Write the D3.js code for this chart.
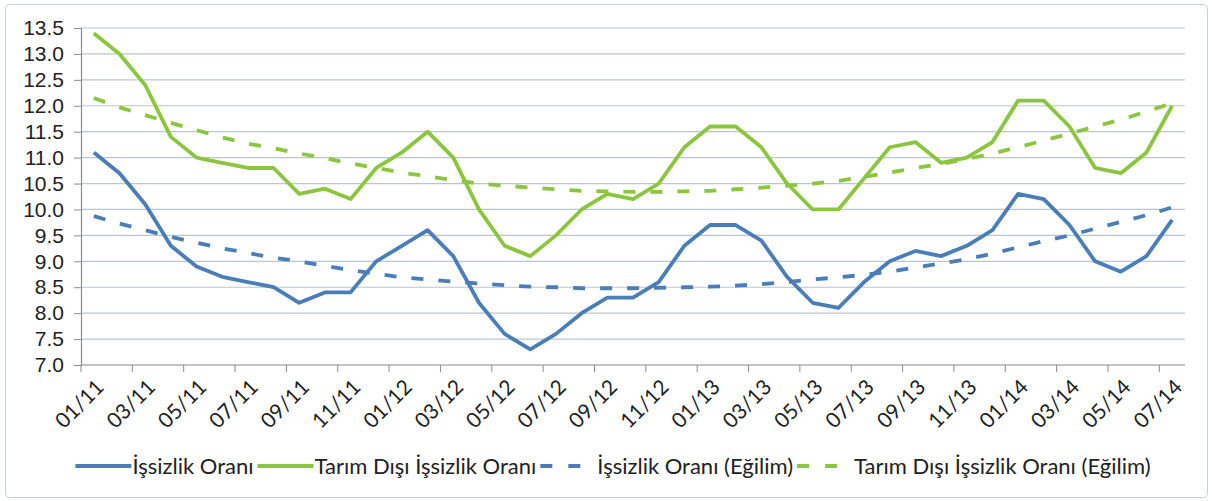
<!DOCTYPE html>
<html>
<head>
<meta charset="utf-8">
<script src="https://cdn.jsdelivr.net/npm/d3@7"></script>
<style>
  body { margin: 0; background: #fff; }
  svg { display: block; font-family: Lato, "Open Sans", sans-serif; }
</style>
</head>
<body>
<div id="chart"></div>
<script>
// Chart size
var svgWidth = 1212;
var svgHeight = 501;

var margin = { top: 28, right: 27, bottom: 136, left: 81 };
var chartWidth = svgWidth - margin.left - margin.right;
var chartHeight = svgHeight - margin.top - margin.bottom;

// Months (01/11 .. 07/14)
var months = ["01/11","02/11","03/11","04/11","05/11","06/11","07/11","08/11","09/11","10/11","11/11","12/11",
              "01/12","02/12","03/12","04/12","05/12","06/12","07/12","08/12","09/12","10/12","11/12","12/12",
              "01/13","02/13","03/13","04/13","05/13","06/13","07/13","08/13","09/13","10/13","11/13","12/13",
              "01/14","02/14","03/14","04/14","05/14","06/14","07/14"];

// İşsizlik Oranı
var issizlik = [11.1,10.7,10.1,9.3,8.9,8.7,8.6,8.5,8.2,8.4,8.4,9.0,
                9.3,9.6,9.1,8.2,7.6,7.3,7.6,8.0,8.3,8.3,8.6,9.3,
                9.7,9.7,9.4,8.7,8.2,8.1,8.6,9.0,9.2,9.1,9.3,9.6,
                10.3,10.2,9.7,9.0,8.8,9.1,9.8];

// Tarım Dışı İşsizlik Oranı
var tarimDisi = [13.4,13.0,12.4,11.4,11.0,10.9,10.8,10.8,10.3,10.4,10.2,10.8,
                 11.1,11.5,11.0,10.0,9.3,9.1,9.5,10.0,10.3,10.2,10.5,11.2,
                 11.6,11.6,11.2,10.5,10.0,10.0,10.6,11.2,11.3,10.9,11.0,11.3,
                 12.1,12.1,11.6,10.8,10.7,11.1,12.0];

// Eğilim (trend) values
var issizlikEgilim = [9.87,9.73,9.60,9.47,9.36,9.25,9.16,9.07,9.00,8.91,8.83,8.76,
                      8.69,8.65,8.61,8.57,8.54,8.51,8.50,8.48,8.48,8.48,8.49,8.50,
                      8.51,8.53,8.56,8.60,8.65,8.69,8.74,8.80,8.88,8.96,9.04,9.15,
                      9.27,9.39,9.50,9.63,9.76,9.89,10.04];

var tarimDisiEgilim = [12.15,11.97,11.82,11.67,11.53,11.39,11.27,11.18,11.08,10.99,10.89,10.80,
                       10.71,10.64,10.57,10.50,10.46,10.42,10.39,10.36,10.35,10.34,10.34,10.35,
                       10.36,10.39,10.42,10.46,10.50,10.55,10.63,10.71,10.80,10.88,10.97,11.08,
                       11.20,11.33,11.46,11.60,11.73,11.89,12.05];

var yTicks = [7.0,7.5,8.0,8.5,9.0,9.5,10.0,10.5,11.0,11.5,12.0,12.5,13.0,13.5];

var seriesNames = ["İşsizlik Oranı", "Tarım Dışı İşsizlik Oranı",
                   "İşsizlik Oranı (Eğilim)", "Tarım Dışı İşsizlik Oranı (Eğilim)"];

var blue = "#4a7ebb";
var green = "#8cc63f";

var svg = d3.select("#chart")
  .append("svg")
  .attr("width", svgWidth)
  .attr("height", svgHeight);

// chart frame
svg.append("rect")
  .attr("x", 5.5).attr("y", 4.5)
  .attr("width", 1202).attr("height", 493)
  .attr("rx", 4)
  .attr("fill", "#fff")
  .attr("stroke", "#c4d2e0");

var chartGroup = svg.append("g")
  .attr("transform", `translate(${margin.left}, ${margin.top})`);

// band scale for categories, lines sit at the band centres
var xBand = d3.scaleBand()
  .domain(months)
  .range([0, chartWidth])
  .padding(0);

var xPos = d => xBand(d) + xBand.bandwidth() / 2;

var yLinearScale = d3.scaleLinear()
  .domain([7, 13.5])
  .range([chartHeight, 0]);

// gridlines
chartGroup.append("g")
  .selectAll("line")
  .data(yTicks.slice(1))
  .enter()
  .append("line")
  .attr("x1", 0)
  .attr("x2", chartWidth)
  .attr("y1", d => yLinearScale(d))
  .attr("y2", d => yLinearScale(d))
  .attr("stroke", "#bcc6d2")
  .attr("stroke-width", 1.2);

// left axis
var leftAxis = chartGroup.append("g")
  .call(d3.axisLeft(yLinearScale)
    .tickValues(yTicks)
    .tickFormat(d3.format(".1f"))
    .tickSize(7)
    .tickPadding(10));

leftAxis.select(".domain").attr("stroke", "#8c8c8c").attr("stroke-width", 1.2);
leftAxis.selectAll(".tick line").attr("stroke", "#8c8c8c");
leftAxis.selectAll("text")
  .attr("font-size", "21px")
  .attr("fill", "#222");

// bottom axis: ticks every 2 categories at the category boundaries
var tickIdx = d3.range(0, months.length, 2);
var bottomAxis = chartGroup.append("g")
  .attr("transform", `translate(0, ${chartHeight})`);

bottomAxis.append("line")
  .attr("x1", 0).attr("x2", chartWidth)
  .attr("stroke", "#8c8c8c").attr("stroke-width", 1.2);

bottomAxis.selectAll(".tk")
  .data(tickIdx)
  .enter()
  .append("line")
  .attr("class", "tk")
  .attr("x1", i => xBand(months[i]))
  .attr("x2", i => xBand(months[i]))
  .attr("y1", 0).attr("y2", 7)
  .attr("stroke", "#8c8c8c");

bottomAxis.selectAll(".lbl")
  .data(tickIdx)
  .enter()
  .append("text")
  .attr("class", "lbl")
  .attr("transform", i => `translate(${xPos(months[i]) + 1}, 13) rotate(-45)`)
  .attr("text-anchor", "end")
  .attr("dy", "0.7em")
  .attr("font-size", "21px")
  .attr("fill", "#222")
  .text(i => months[i]);

// lines
var drawLine = d3.line()
  .x((d, i) => xPos(months[i]))
  .y(d => yLinearScale(d));

var lines = [
  { data: issizlikEgilim, color: blue, dash: "12,15" },
  { data: tarimDisiEgilim, color: green, dash: "12,15" },
  { data: issizlik, color: blue, dash: null },
  { data: tarimDisi, color: green, dash: null }
];

lines.forEach(l => {
  chartGroup.append("path")
    .attr("d", drawLine(l.data))
    .attr("fill", "none")
    .attr("stroke", l.color)
    .attr("stroke-width", 3.8)
    .attr("stroke-linejoin", "round")
    .attr("stroke-dasharray", l.dash);
});

// legend
var legendItems = [
  { name: seriesNames[0], color: blue, dash: null },
  { name: seriesNames[1], color: green, dash: null },
  { name: seriesNames[2], color: blue, dash: "12,16" },
  { name: seriesNames[3], color: green, dash: "12,16" }
];

var legend = svg.append("g");
var keyW = 56;
var cx = 0;
legendItems.forEach(item => {
  var g = legend.append("g");
  g.append("line")
    .attr("x1", cx).attr("x2", cx + keyW)
    .attr("stroke", item.color)
    .attr("stroke-width", 3.8)
    .attr("stroke-dasharray", item.dash);
  var t = g.append("text")
    .attr("x", cx + keyW + 1)
    .attr("dy", "0.35em")
    .attr("font-size", "22px")
    .attr("fill", "#222")
    .text(item.name);
  cx += keyW + 1 + t.node().getComputedTextLength() + 4;
});
var legendStart = 615 - cx / 2;
legend.attr("transform", `translate(${legendStart}, 466)`);
</script>
</body>
</html>
